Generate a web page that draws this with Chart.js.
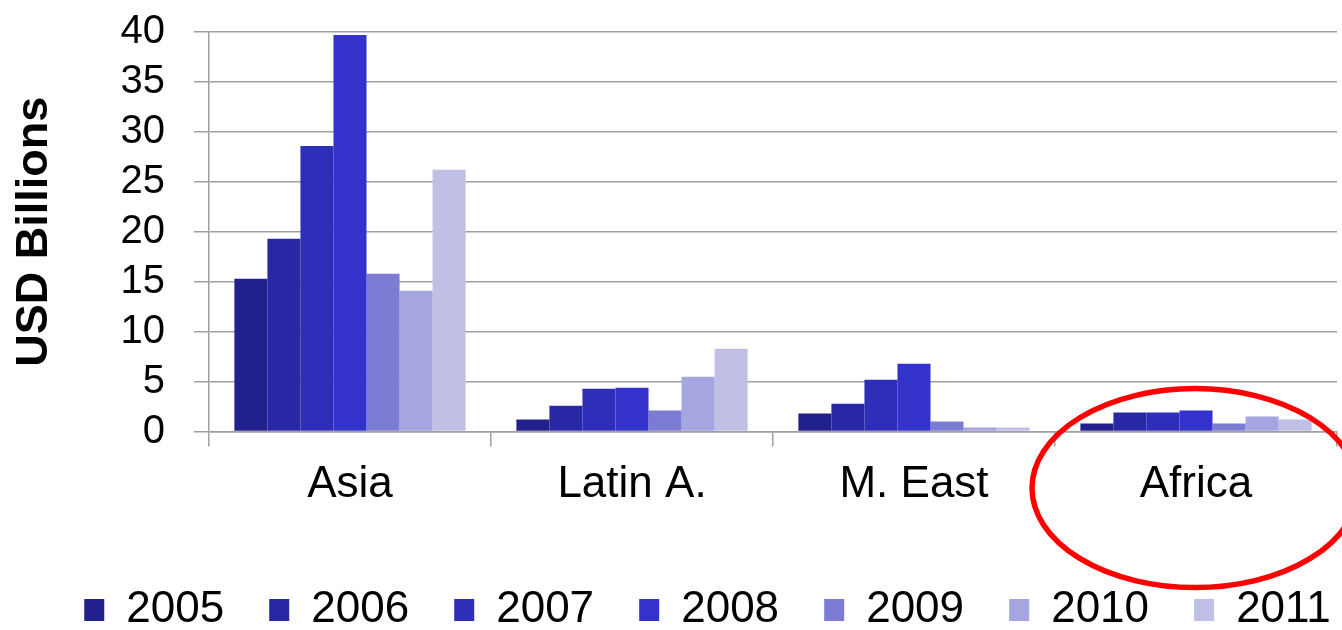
<!DOCTYPE html>
<html lang="en">
<head>
    <meta charset="UTF-8">
    <title>USD Billions by Region</title>
    <script src="https://cdn.jsdelivr.net/npm/chart.js"></script>
    <style>
        body {
            margin: 0;
            padding: 0;
            overflow: hidden;
            background-color: #fff;
        }

        .chart-container {
            width: 1415px;
            height: 630px;
        }
    </style>
</head>
<body>
    <div class="chart-container">
        <canvas id="regionChart" width="1415" height="630"></canvas>
    </div>

    <script>
        // Values
        const regions = ['Asia', 'Latin A.', 'M. East', 'Africa'];
        const years = ['2005', '2006', '2007', '2008', '2009', '2010', '2011'];

        const values2005 = [15.3, 1.2, 1.8, 0.8];
        const values2006 = [19.3, 2.6, 2.8, 1.9];
        const values2007 = [28.6, 4.3, 5.2, 1.9];
        const values2008 = [39.7, 4.4, 6.8, 2.1];
        const values2009 = [15.8, 2.1, 1.0, 0.8];
        const values2010 = [14.1, 5.5, 0.4, 1.5];
        const values2011 = [26.2, 8.3, 0.4, 1.2];

        const yTicks = [0, 5, 10, 15, 20, 25, 30, 35, 40];

        const seriesValues = [values2005, values2006, values2007, values2008, values2009, values2010, values2011];
        const seriesColors = ['#22208c', '#2828a6', '#2e2eb9', '#3333cc', '#7c7cd5', '#a5a5df', '#c0c0e7'];

        const fontFamily = '"Liberation Sans", Arial, sans-serif';
        const gridColor = '#a0a0a0';

        // Red ring around the Africa group
        const highlightRing = {
            id: 'highlightRing',
            afterDraw(chart) {
                const ctx = chart.ctx;
                const x = chart.scales.x;
                const cx = x.getPixelForValue(3) - 1;
                const cy = chart.chartArea.bottom + 56.5;
                ctx.save();
                ctx.beginPath();
                ctx.ellipse(cx, cy, 163, 99.5, 0, 0, Math.PI * 2);
                ctx.strokeStyle = '#ff0000';
                ctx.lineWidth = 5.5;
                ctx.stroke();
                ctx.restore();
            }
        };

        const ctx = document.getElementById('regionChart').getContext('2d');
        new Chart(ctx, {
            type: 'bar',
            data: {
                labels: regions,
                datasets: years.map((year, i) => ({
                    label: year,
                    data: seriesValues[i],
                    backgroundColor: seriesColors[i],
                    borderWidth: 0,
                    categoryPercentage: 0.82,
                    barPercentage: 1.0
                }))
            },
            options: {
                responsive: false,
                animation: false,
                devicePixelRatio: 1,
                layout: {
                    padding: { top: 32, left: 0, right: 0, bottom: -12 }
                },
                plugins: {
                    tooltip: { enabled: false },
                    legend: {
                        position: 'bottom',
                        labels: {
                            boxWidth: 20,
                            boxHeight: 22,
                            padding: 45.1,
                            color: '#000',
                            font: { family: fontFamily, size: 44 }
                        }
                    }
                },
                scales: {
                    x: {
                        grid: {
                            offset: true,
                            drawOnChartArea: false,
                            tickLength: 15,
                            color: gridColor,
                            lineWidth: 1.5
                        },
                        border: { color: gridColor, width: 1.5 },
                        ticks: {
                            color: '#000',
                            padding: 12,
                            font: { family: fontFamily, size: 44 }
                        },
                        afterFit(scale) {
                            scale.height = 111.3;
                        }
                    },
                    y: {
                        min: 0,
                        max: 40,
                        afterBuildTicks(scale) {
                            scale.ticks = yTicks.map(v => ({ value: v }));
                        },
                        grid: {
                            tickLength: 15,
                            color: gridColor,
                            lineWidth: 1.5
                        },
                        border: { color: gridColor, width: 1.5 },
                        ticks: {
                            autoSkip: false,
                            color: '#000',
                            padding: 29,
                            font: { family: fontFamily, size: 40 }
                        },
                        title: {
                            display: true,
                            text: 'USD Billions',
                            color: '#000',
                            padding: { top: 8, bottom: 0 },
                            font: { family: fontFamily, size: 45, weight: 'bold' }
                        },
                        afterFit(scale) {
                            scale.width = 209;
                            scale.paddingTop = 0;
                            scale.paddingBottom = 0;
                        }
                    },
                    yPad: {
                        position: 'right',
                        grid: { display: false },
                        border: { display: false },
                        ticks: { display: false },
                        afterFit(scale) {
                            scale.width = 78;
                        }
                    }
                }
            },
            plugins: [highlightRing]
        });
    </script>
</body>
</html>
